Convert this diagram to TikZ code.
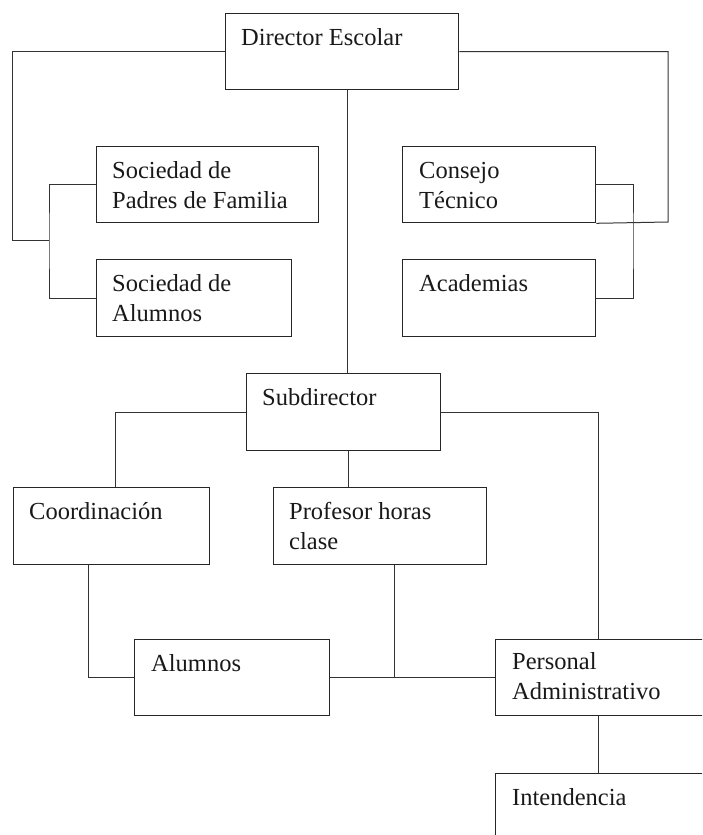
\documentclass[tikz,border=0pt]{standalone}
\usepackage{fontspec}
\setmainfont{Liberation Serif}
\begin{document}
\begin{tikzpicture}[x=1pt,y=-1pt,
  box/.style={draw=black!85, line width=1.3pt, rectangle, inner sep=0pt, anchor=north west},
  lbl/.style={anchor=north west, inner sep=0pt, align=left, font=\fontsize{24.5}{30}\selectfont, text=black!90},
  conn/.style={draw=black!80, line width=1pt}]
\useasboundingbox (0,0) rectangle (702,835);
\clip (0,0) rectangle (702,835);
% boxes
\node[box, minimum width=233pt, minimum height=76pt] (dir) at (225,13) {};
\node[box, minimum width=222pt, minimum height=76pt] (sp) at (96,146) {};
\node[box, minimum width=195pt, minimum height=77pt] (sa) at (96,259) {};
\node[box, minimum width=193pt, minimum height=76pt] (ct) at (402,146) {};
\node[box, minimum width=193pt, minimum height=77pt] (ac) at (402,259) {};
\node[box, minimum width=194pt, minimum height=77pt] (sub) at (246,373) {};
\node[box, minimum width=196pt, minimum height=77pt] (co) at (13,487) {};
\node[box, minimum width=213pt, minimum height=77pt] (pr) at (273,487) {};
\node[box, minimum width=195pt, minimum height=76pt] (al) at (134,639) {};
\node[box, minimum width=225pt, minimum height=76pt] (pa) at (495,639) {};
\node[box, minimum width=225pt, minimum height=97pt] (in) at (495,773) {};
% labels
\node[lbl] (dirt) at ([xshift=16pt,yshift=-11pt]dir.north west) {\strut Director Escolar};
\node[lbl] (spt) at ([xshift=16pt,yshift=-11pt]sp.north west) {\strut Sociedad de\\Padres de Familia};
\node[lbl] (sat) at ([xshift=16pt,yshift=-11pt]sa.north west) {\strut Sociedad de\\Alumnos};
\node[lbl] (ctt) at ([xshift=17pt,yshift=-11pt]ct.north west) {\strut Consejo\\Técnico};
\node[lbl] (act) at ([xshift=17pt,yshift=-11pt]ac.north west) {\strut Academias};
\node[lbl] (subt) at ([xshift=16pt,yshift=-11pt]sub.north west) {\strut Subdirector};
\node[lbl] (cot) at ([xshift=16pt,yshift=-11pt]co.north west) {\strut Coordinación};
\node[lbl] (prt) at ([xshift=16pt,yshift=-11pt]pr.north west) {\strut Profesor horas\\clase};
\node[lbl] (alt) at ([xshift=17pt,yshift=-11pt]al.north west) {\strut Alumnos};
\node[lbl] (pat) at ([xshift=17pt,yshift=-9pt]pa.north west) {\strut Personal\\Administrativo};
\node[lbl] (int) at ([xshift=17pt,yshift=-11pt]in.north west) {\strut Intendencia};
% helper coordinates
\coordinate (lo) at (12,240);
\coordinate (lb) at (49,240);
\coordinate (ro) at (668,222);
\coordinate (rb) at (633,240);
\coordinate (vx) at (347,0);
\coordinate (cx) at (115,0);
\coordinate (px) at (348,0);
\coordinate (ax) at (598,0);
\coordinate (kx) at (88,0);
\coordinate (qx) at (394,0);
% connectors
\draw[conn] (dir.west) -| (lo) -- (lb);
\draw[conn] (sp.west) -| (lb) |- (sa.west);
\draw[conn] (dir.east) -| (ro) -- (ct.south east);
\draw[conn] (ct.east) -| (rb) |- (ac.east);
\draw[conn] (dir.south -| vx) -- (sub.north -| vx);
\draw[conn] (sub.west) -| (co.north -| cx);
\draw[conn] (sub.south -| px) -- (pr.north -| px);
\draw[conn] (sub.east) -| (pa.north -| ax);
\draw[conn] (co.south -| kx) |- (al.west);
\draw[conn] (al.east) -- (pa.west);
\draw[conn] (pr.south -| qx) -- (al.east -| qx);
\draw[conn] (pa.south -| ax) -- (in.north -| ax);
\end{tikzpicture}
\end{document}
